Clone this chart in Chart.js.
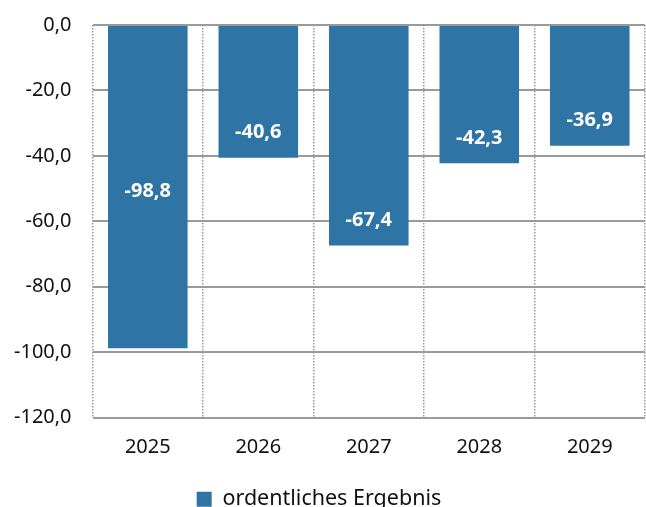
<!DOCTYPE html>
<html lang="de">
<head>
<meta charset="utf-8">
<script src="https://cdn.jsdelivr.net/npm/chart.js@4/dist/chart.umd.min.js"></script>
<style>
  html, body { margin: 0; padding: 0; background: #fff; overflow: hidden; }
  #wrap { width: 646px; height: 507px; }
</style>
</head>
<body>
<div id="wrap"><canvas id="chart" width="646" height="507"></canvas></div>
<script>
// Daten
const years = ['2025', '2026', '2027', '2028', '2029'];
const ergebnis = [-98.8, -40.6, -67.4, -42.3, -36.9];
const yTicks = [0, -20, -40, -60, -80, -100, -120];
const seriesName = 'ordentliches Ergebnis';

// Label-Position je Balken (erster Balken mittig, sonst am Ende)
const labelAnchor = ['center', 'end', 'end', 'end', 'end'];

const fmt = v => v.toFixed(1).replace('.', ',');

// Datenbeschriftung in den Balken
const barLabels = {
  id: 'barLabels',
  afterDatasetsDraw(chart) {
    const ctx = chart.ctx;
    const meta = chart.getDatasetMeta(0);
    ctx.save();
    ctx.font = 'bold 20px "Noto Sans", "Open Sans", sans-serif';
    ctx.fillStyle = '#ffffff';
    ctx.textAlign = 'center';
    ctx.textBaseline = 'middle';
    meta.data.forEach((bar, i) => {
      const v = chart.data.datasets[0].data[i];
      let y;
      if (labelAnchor[i] === 'center') {
        y = (bar.y + bar.base) / 2 + 4;
      } else {
        y = bar.y - 25;
      }
      ctx.fillText(fmt(v), bar.x, y);
    });
    ctx.restore();
  }
};

Chart.defaults.font.family = '"Noto Sans", "Open Sans", sans-serif';
Chart.defaults.color = '#111';

new Chart(document.getElementById('chart').getContext('2d'), {
  type: 'bar',
  data: {
    labels: years,
    datasets: [{
      label: seriesName,
      data: ergebnis,
      backgroundColor: '#2E74A4',
      borderWidth: 0,
      barPercentage: 0.72,
      categoryPercentage: 1.0
    }]
  },
  options: {
    responsive: false,
    animation: false,
    layout: { padding: { top: 25, right: 1, left: -7, bottom: -13 } },
    scales: {
      x: {
        offset: true,
        grid: {
          offset: true,
          color: '#9a9a9a',
          lineWidth: 1.5,
          drawTicks: false
        },
        border: { display: false, dash: [1.5, 1.5] },
        ticks: { font: { size: 20 }, padding: 18, color: '#111' }
      },
      y: {
        min: -120,
        max: 0,
        afterBuildTicks: axis => { axis.ticks = yTicks.map(v => ({ value: v })); },
        afterFit: axis => { axis.paddingTop = 0; axis.paddingBottom = 0; },
        grid: { color: '#9a9a9a', lineWidth: 2, drawTicks: false },
        border: { display: false },
        ticks: {
          font: { size: 20 },
          padding: 21,
          color: '#111',
          callback: v => fmt(v)
        }
      }
    },
    plugins: {
      legend: {
        position: 'bottom',
        labels: {
          font: { size: 21.5 },
          color: '#111',
          boxWidth: 15,
          boxHeight: 15,
          padding: 11
        }
      },
      tooltip: { enabled: false }
    }
  },
  plugins: [barLabels]
});
</script>
</body>
</html>
